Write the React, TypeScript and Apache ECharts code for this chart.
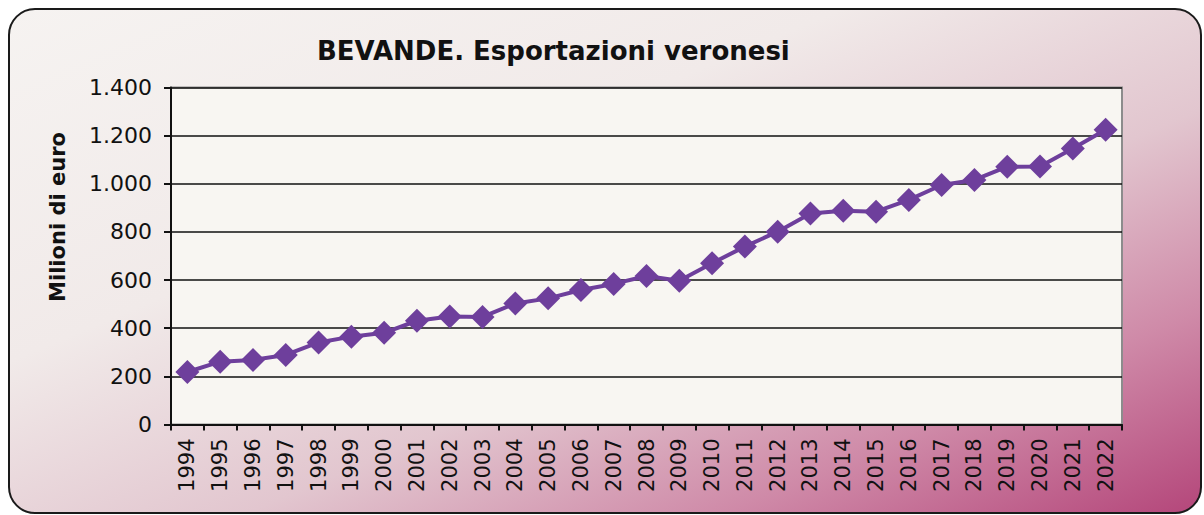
import React, { useEffect, useRef } from "react";
import * as echarts from "echarts";

const years = [
  "1994", "1995", "1996", "1997", "1998", "1999", "2000", "2001", "2002", "2003",
  "2004", "2005", "2006", "2007", "2008", "2009", "2010", "2011", "2012", "2013",
  "2014", "2015", "2016", "2017", "2018", "2019", "2020", "2021", "2022",
];
const exportValues = [
  218, 261, 268, 289, 341, 365, 381, 431, 449, 447,
  503, 524, 559, 584, 617, 597, 670, 739, 801, 877,
  888, 884, 933, 995, 1016, 1071, 1072, 1147, 1224,
];
const titleText = "BEVANDE. Esportazioni veronesi";
const yAxisName = "Milioni di euro";

const FONT = "'DejaVu Sans', Verdana, sans-serif";

function fmt(v: number): string {
  return String(v).replace(/\B(?=(\d{3})+(?!\d))/g, ".");
}

export default function App() {
  const ref = useRef<HTMLDivElement>(null);
  useEffect(() => {
    document.body.style.margin = "0";
    if (!ref.current) return;
    const chart = echarts.init(ref.current, null, { renderer: "svg" });
    chart.setOption({
      animation: false,
      backgroundColor: "#ffffff",
      textStyle: { fontFamily: FONT },
      graphic: [
        {
          type: "rect",
          z: -10,
          silent: true,
          shape: { x: 9, y: 9, width: 1192, height: 504, r: 26 },
          style: {
            fill: new echarts.graphic.LinearGradient(0, 0, 1, 1, [
              { offset: 0, color: "#f6f3f1" },
              { offset: 0.35, color: "#f1eae9" },
              { offset: 0.6, color: "#e2c6cf" },
              { offset: 0.8, color: "#cf8aa8" },
              { offset: 1, color: "#b4467a" },
            ]),
            stroke: "#1a1a1a",
            lineWidth: 2,
          },
        },
        {
          type: "text",
          silent: true,
          x: 58,
          y: 217,
          rotation: Math.PI / 2,
          style: {
            text: yAxisName,
            fontFamily: FONT,
            fontWeight: "bold",
            fontSize: 21,
            fill: "#111",
            align: "center",
            verticalAlign: "middle",
          },
        },
      ],
      title: {
        text: titleText,
        left: 312,
        top: 33,
        textStyle: {
          fontFamily: FONT,
          fontWeight: "bold",
          fontSize: 26,
          color: "#111111",
        },
      },
      grid: {
        left: 171,
        right: 82,
        top: 87.5,
        bottom: 90.5,
        show: true,
        backgroundColor: "#f8f6f2",
        borderColor: "#8c8c8c",
        borderWidth: 2,
      },
      xAxis: {
        type: "category",
        data: years,
        boundaryGap: true,
        axisLine: { show: true, lineStyle: { color: "#111", width: 2 } },
        axisTick: { show: true, length: 6, alignWithLabel: false, lineStyle: { color: "#111", width: 2 } },
        axisLabel: {
          rotate: 90,
          interval: 0,
          margin: 14,
          fontFamily: FONT,
          fontSize: 21,
          color: "#111",
        },
        splitLine: { show: false },
      },
      yAxis: {
        type: "value",
        min: 0,
        max: 1400,
        interval: 200,
        axisLine: { show: true, lineStyle: { color: "#111", width: 2 } },
        axisTick: { show: true, length: 7, lineStyle: { color: "#111", width: 2 } },
        axisLabel: {
          margin: 19,
          fontFamily: FONT,
          fontSize: 22,
          color: "#111",
          formatter: (v: number) => fmt(v),
        },
        splitLine: { show: true, lineStyle: { color: "#111", width: 1.5 } },
      },
      series: [
        {
          type: "line",
          data: exportValues,
          symbol: "diamond",
          symbolSize: 24,
          lineStyle: { color: "#6e3f9c", width: 4 },
          itemStyle: { color: "#6e3f9c" },
        },
      ],
    });
    return () => chart.dispose();
  }, []);
  return <div ref={ref} style={{ width: 1204, height: 515 }} />;
}
